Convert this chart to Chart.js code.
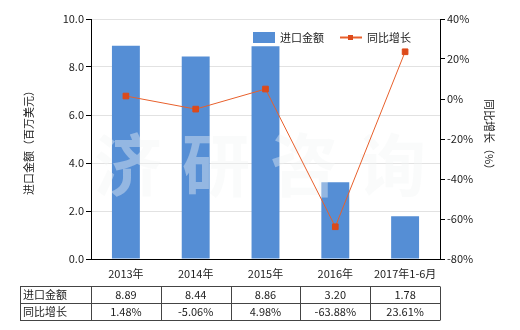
<!DOCTYPE html>
<html>
<head>
<meta charset="utf-8">
<script src="https://cdn.jsdelivr.net/npm/chart.js@4/dist/chart.umd.min.js"></script>
<style>
  body { margin: 0; background: #fff; }
  #wrap { width: 520px; height: 330px; }
</style>
</head>
<body>
<div id="wrap"><canvas id="myChart" width="520" height="330"></canvas></div>
<script>
// data
var categories = ["2013年", "2014年", "2015年", "2016年", "2017年1-6月"];
var importValues = [8.89, 8.44, 8.86, 3.2, 1.78];
var growthValues = [1.48, -5.06, 4.98, -63.88, 23.61];
var importLabels = ["8.89", "8.44", "8.86", "3.20", "1.78"];
var growthLabels = ["1.48%", "-5.06%", "4.98%", "-63.88%", "23.61%"];
var seriesNames = ["进口金额", "同比增长"];

var FONT = "'Noto Sans CJK SC', 'Noto Sans', sans-serif";
var barColor = "#558ED5";
var lineColor = "#E8602C";
var pointColor = "#DD4A1A";

//watermark, drawn just over the bars
var watermark = {
  id: "watermark",
  afterDatasetDraw: function (chart, args) {
    if (args.index !== 0) return;
    var ctx = chart.ctx;
    ctx.save();
    ctx.fillStyle = "rgba(242,246,246,0.4)";
    ctx.font = "bold 68px " + FONT;
    ctx.textAlign = "center";
    ctx.textBaseline = "middle";
    var chars = ["济", "研", "咨", "询"];
    for (var i = 0; i < chars.length; i++) {
      ctx.fillText(chars[i], 128 + i * 88, 165);
    }
    ctx.restore();
  },
};

//axis titles, legend and data table
var extras = {
  id: "extras",
  afterDraw: function (chart) {
    var ctx = chart.ctx;
    var x = chart.scales.x;
    ctx.save();
    ctx.fillStyle = "#222";
    ctx.font = "11px " + FONT;
    ctx.textAlign = "center";
    ctx.textBaseline = "middle";

    // left title
    ctx.save();
    ctx.translate(29, 140);
    ctx.rotate(-Math.PI / 2);
    ctx.fillText("进口金额（百万美元）", 0, 0);
    ctx.restore();

    // right title
    ctx.save();
    ctx.translate(489, 137);
    ctx.rotate(Math.PI / 2);
    ctx.fillText("同比增长（%）", 0, 0);
    ctx.restore();

    // legend
    ctx.textAlign = "left";
    ctx.fillStyle = barColor;
    ctx.fillRect(253, 32, 22, 11);
    ctx.fillStyle = "#222";
    ctx.fillText(chart.data.datasets[0].label, 280, 38);
    ctx.strokeStyle = lineColor;
    ctx.lineWidth = 2;
    ctx.beginPath();
    ctx.moveTo(340, 37.5);
    ctx.lineTo(362, 37.5);
    ctx.stroke();
    ctx.fillStyle = pointColor;
    ctx.fillRect(348, 35, 5, 5);
    ctx.fillStyle = "#222";
    ctx.fillText(chart.data.datasets[1].label, 367, 38);

    // table
    var half = (x.getPixelForValue(1) - x.getPixelForValue(0)) / 2;
    var left = 20;
    var right = x.getPixelForValue(categories.length - 1) + half;
    var rows = [286.5, 303.5, 320.5];
    ctx.strokeStyle = "#444";
    ctx.lineWidth = 1;
    ctx.beginPath();
    rows.forEach(function (ry) {
      ctx.moveTo(left, ry);
      ctx.lineTo(right, ry);
    });
    var cols = [left, x.getPixelForValue(0) - half];
    for (var i = 0; i < categories.length; i++) {
      cols.push(x.getPixelForValue(i) + half);
    }
    cols.forEach(function (cx) {
      cx = Math.round(cx) + 0.5;
      ctx.moveTo(cx, rows[0]);
      ctx.lineTo(cx, rows[2]);
    });
    ctx.stroke();

    ctx.fillStyle = "#222";
    ctx.textAlign = "left";
    ctx.fillText(seriesNames[0], 23, 295);
    ctx.fillText(seriesNames[1], 23, 312);
    ctx.textAlign = "center";
    for (var j = 0; j < categories.length; j++) {
      var px = x.getPixelForValue(j);
      ctx.fillText(importLabels[j], px, 295);
      ctx.fillText(growthLabels[j], px, 312);
    }
    ctx.restore();
  },
};

const ctx = document.getElementById("myChart");
const myChart = new Chart(ctx, {
  data: {
    labels: categories,
    datasets: [
      {
        type: "bar",
        label: seriesNames[0],
        data: importValues,
        backgroundColor: barColor,
        yAxisID: "y",
        categoryPercentage: 1,
        barPercentage: 0.4,
        order: 2,
      },
      {
        type: "line",
        label: seriesNames[1],
        data: growthValues,
        borderColor: lineColor,
        borderWidth: 1,
        pointStyle: "rect",
        pointRadius: 4,
        pointBorderWidth: 1,
        pointBackgroundColor: pointColor,
        pointBorderColor: pointColor,
        yAxisID: "y1",
        tension: 0,
        order: 1,
      },
    ],
  },
  options: {
    responsive: false,
    animation: false,
    layout: { padding: { top: 19, left: 0, right: 0, bottom: 0 } },
    plugins: {
      legend: { display: false },
      tooltip: { enabled: false },
    },
    scales: {
      x: {
        afterFit: function (scale) {
          scale.height = 71;
        },
        grid: { display: false },
        border: { color: "#000", width: 1 },
        ticks: {
          color: "#222",
          padding: 0,
          maxRotation: 0,
          autoSkip: false,
          font: { size: 11, family: FONT },
        },
      },
      y: {
        position: "left",
        min: 0,
        max: 10,
        afterFit: function (scale) {
          scale.width = 91;
        },
        grid: { color: "#e2e2e2", tickColor: "#000", tickLength: 5 },
        border: { color: "#000", width: 1 },
        ticks: {
          stepSize: 2,
          color: "#222",
          padding: 2,
          font: { size: 11, family: FONT },
          callback: function (v) {
            return v.toFixed(1);
          },
        },
      },
      y1: {
        position: "right",
        min: -80,
        max: 40,
        afterFit: function (scale) {
          scale.width = 80;
        },
        grid: { drawOnChartArea: false, tickColor: "#000", tickLength: 5 },
        border: { color: "#000", width: 1 },
        ticks: {
          stepSize: 20,
          color: "#222",
          padding: 2,
          font: { size: 11, family: FONT },
          callback: function (v) {
            return v + "%";
          },
        },
      },
    },
  },
  plugins: [watermark, extras],
});
</script>
</body>
</html>
